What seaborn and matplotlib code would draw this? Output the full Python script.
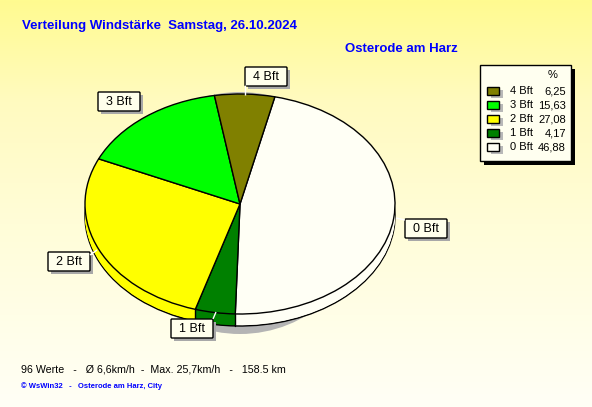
"""
Verteilung Windstaerke - pie chart with WsWin32 style extruded look
"""
import numpy as np
import matplotlib
matplotlib.use("Agg")
import matplotlib.pyplot as plt
from matplotlib.colors import LinearSegmentedColormap
from matplotlib.patches import Rectangle, Ellipse, FancyBboxPatch
import seaborn as sns

sns.set_theme(style="white")
plt.rcParams["font.family"] = ["Liberation Sans", "DejaVu Sans"]

# data
categories = ["0 Bft", "1 Bft", "2 Bft", "3 Bft", "4 Bft"]
percent = [46.88, 4.17, 27.08, 15.63, 6.25]
percent_text = ["46,88", "4,17", "27,08", "15,63", "6,25"]
palette = sns.color_palette(["#FFFFF5", "#008000", "#FFFF00", "#00FF00", "#808000"])

W, H = 592, 407
CX, CY, RX, RY = 240, 204, 155, 110
DEPTH = 12
START = 77

fig = plt.figure(figsize=(W / 100, H / 100), dpi=100)

# overlay in pixel coordinates, holds background and pie shadow
bg = fig.add_axes([0, 0, 1, 1], zorder=0)
bg.axis("off")
cmap = LinearSegmentedColormap.from_list(
    "bg", [(0, "#FFFB90"), (0.25, "#FFFAC0"), (0.55, "#FFFDD8"), (1, "#FFFFF6")])
bg.imshow(np.linspace(0, 1, 256).reshape(-1, 1), cmap=cmap, aspect="auto",
          extent=(0, W, H, 0), vmin=0, vmax=1)
bg.set_xlim(0, W)
bg.set_ylim(H, 0)
bg.add_patch(Ellipse((CX, 213), 250, 242, color="#B4B4B4", lw=0))

# pie axes, stretched so that the unit circle becomes the ellipse
ax = fig.add_axes([(CX - RX) / W, 1 - (CY + RY) / H, 2 * RX / W, 2 * RY / H], zorder=1)
for k in range(DEPTH, -1, -1):
    is_edge = k in (0, DEPTH)
    ax.pie(percent, colors=palette, startangle=START, counterclock=False, radius=1,
           center=(0, -k / RY),
           wedgeprops={"edgecolor": "black" if is_edge else "none",
                       "linewidth": 1 if is_edge else 0, "clip_on": False})

# vertical edges on the side wall, at the slice borders facing the viewer
for a in np.cumsum(percent):
    t = np.radians(90 - START + a * 3.6)
    if np.cos(t) < 0:
        ax.plot([np.sin(t)] * 2, [np.cos(t), np.cos(t) - DEPTH / RY], color="black", lw=1,
                clip_on=False)
ax.set_aspect("auto")
ax.set_xlim(-1, 1)
ax.set_ylim(-1, 1)
ax.axis("off")

# overlay for labels and legend
top = fig.add_axes([0, 0, 1, 1], zorder=2)
top.set_xlim(0, W)
top.set_ylim(H, 0)
top.axis("off")
top.patch.set_alpha(0)

# slice labels: name, box left, box top, tick from, tick to
callouts = [("4 Bft", 245, 67, (245, 95), (245, 85)),
            ("3 Bft", 98, 92, None, None),
            ("2 Bft", 48, 252, (90, 255), (97, 250)),
            ("1 Bft", 171, 319, (216, 312), (213, 319)),
            ("0 Bft", 405, 219, (396, 218), (405, 220))]
for name, x0, y0, p0, p1 in callouts:
    if p0 is not None:
        top.plot([p0[0], p1[0]], [p0[1], p1[1]], color="white", lw=1, solid_capstyle="butt")
    top.add_patch(Rectangle((x0 + 3, y0 + 3), 42, 19, fc="#A8A8A8", ec="none"))
    top.add_patch(FancyBboxPatch((x0 + 1, y0 + 1), 40, 17, boxstyle="round,pad=1,rounding_size=1",
                                 fc="#FFFFEC", ec="black", lw=1))
    top.text(x0 + 21, y0 + 10, name, ha="center", va="center", fontsize=9, color="black")

# titles
top.text(22, 26, "Verteilung Windstärke  Samstag, 26.10.2024", color="#0000FF",
         fontsize=9.5, fontweight="bold", va="center", ha="left")
top.text(345, 49, "Osterode am Harz", color="#0000FF", fontsize=9.5, fontweight="bold",
         va="center", ha="left")

# legend
top.add_patch(Rectangle((484, 69), 91, 96, fc="black", ec="none"))
top.add_patch(Rectangle((480, 65), 91, 96, fc="#FFFFF0", ec="black", lw=1))
top.text(553, 75, "%", fontsize=8, ha="center", va="center", color="black")
legend_rows = list(zip(categories, percent_text, palette))[::-1]
for i, (name, txt, col) in enumerate(legend_rows):
    y = 91 + i * 14
    top.add_patch(Rectangle((491, y - 1), 12, 8, fc="#B8B8B8", ec="none"))
    top.add_patch(Rectangle((487, y - 4), 12, 8, fc=col, ec="black", lw=1))
    top.text(510, y, name, fontsize=8, ha="left", va="center", color="black")
    top.text(566, y, txt, fontsize=8, ha="right", va="center", color="black")

# footer
top.text(21, 369, "96 Werte   -   Ø 6,6km/h  -  Max. 25,7km/h   -   158.5 km",
         fontsize=7.7, ha="left", va="center", color="black")
top.text(21, 386, "© WsWin32   -   Osterode am Harz, City", fontsize=5.5, fontweight="bold",
         ha="left", va="center", color="#0000FF")

fig.savefig("out.png", dpi=100)
